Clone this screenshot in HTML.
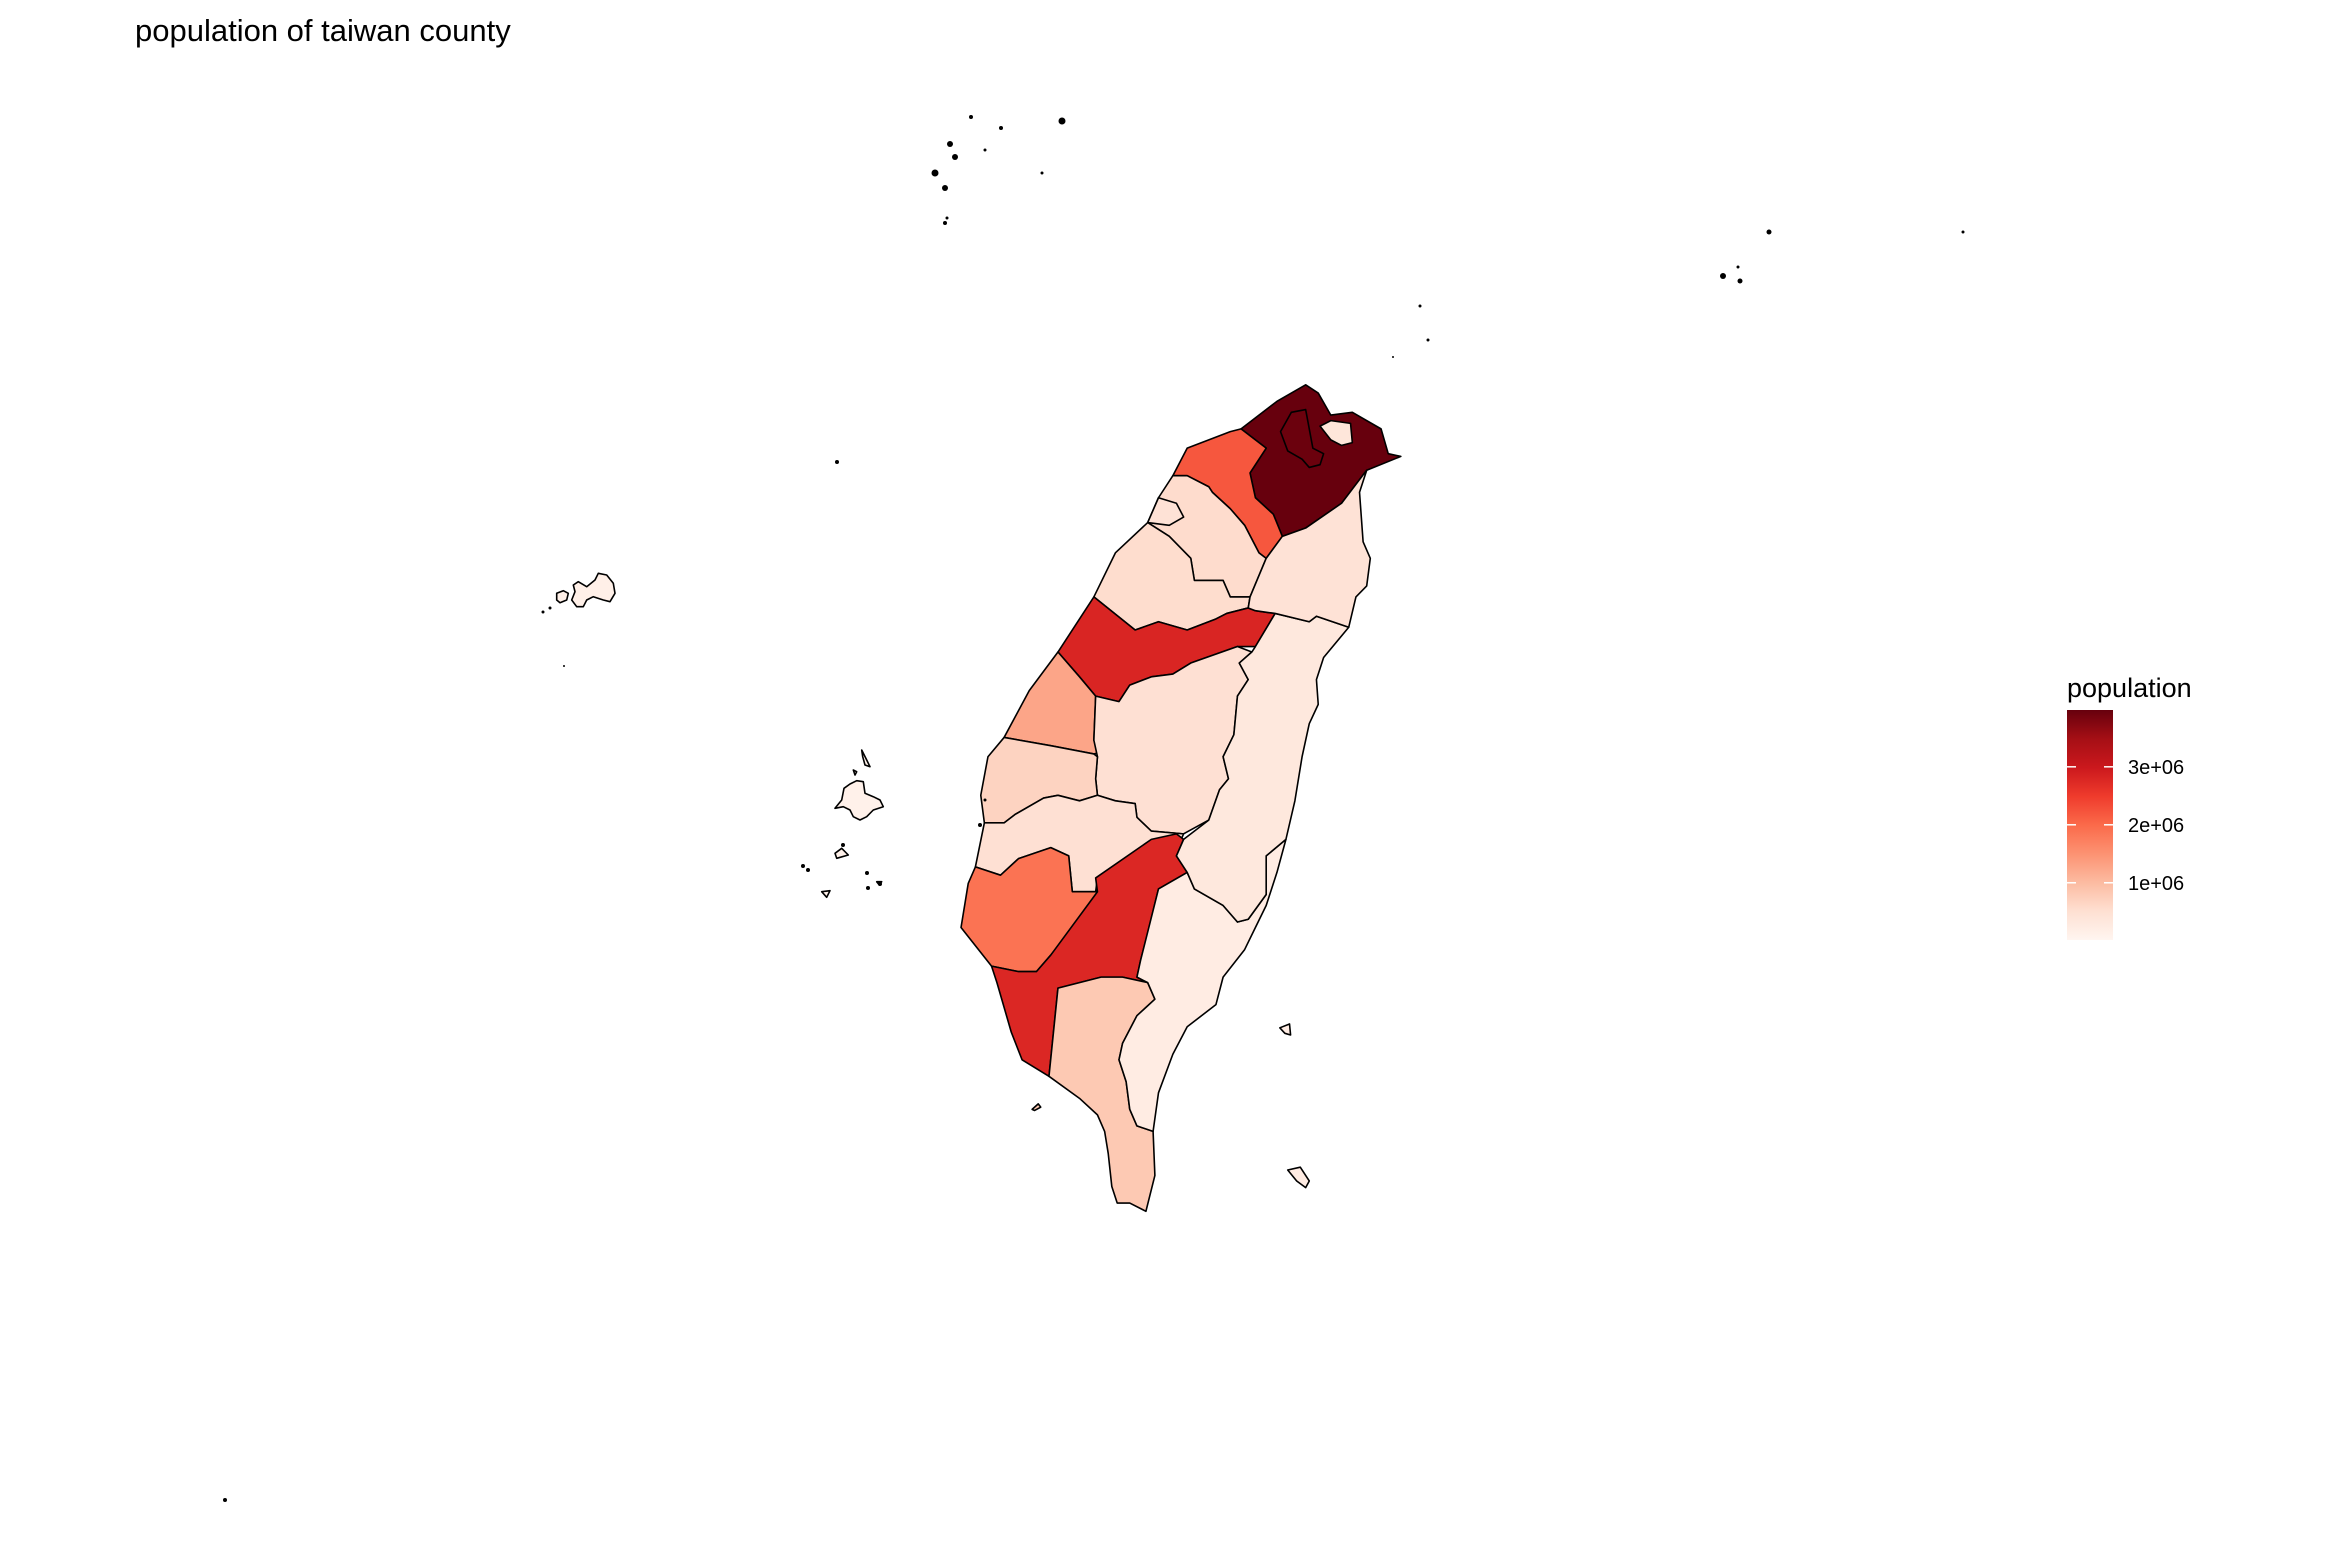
<!DOCTYPE html>
<html><head><meta charset="utf-8"><style>
html,body{margin:0;padding:0;background:#fff}
svg{display:block}
text{font-family:"Liberation Sans",Arial,sans-serif}
</style></head><body>
<svg id="chart" width="2338" height="1562" viewBox="0 0 2338 1562">
<rect width="2338" height="1562" fill="#fff"/>
<text x="135" y="41" font-size="31" fill="#000">population of taiwan county</text>
<g id="main" transform="translate(900,360) scale(0.359,0.551)" stroke="#000" stroke-width="1.6" stroke-linejoin="round"></g>
<g id="islands" stroke="#000" stroke-width="1.6" stroke-linejoin="round"></g>
<g id="legend"></g>
</svg>
<script>
const counties = ["New Taipei","Taipei","Keelung","Taoyuan","Hsinchu","Hsinchu City","Miaoli","Taichung","Changhua","Nantou","Yunlin","Chiayi","Tainan","Kaohsiung","Pingtung","Taitung","Hualien","Yilan","Kinmen","Penghu","Lienchiang"];
const populations = [3980000,3950000,370000,2200000,560000,450000,550000,2800000,1270000,500000,680000,500000,1880000,2770000,820000,220000,330000,450000,140000,105000,13000];
const legendTicks = [1000000,2000000,3000000];
const legendTickLabels = ["1e+06","2e+06","3e+06"];

const shapes = {
"New Taipei":"950,125 1050,75 1130,45 1165,60 1200,100 1260,95 1340,125 1360,170 1395,175 1300,200 1230,260 1130,305 1065,320 1040,280 990,250 975,205 1020,160",
"Taipei":"1060,130 1090,95 1130,90 1150,160 1180,170 1170,190 1140,195 1120,180 1080,165",
"Keelung":"1170,120 1200,110 1255,115 1260,150 1230,155 1200,145",
"Taoyuan":"800,160 920,130 950,125 1020,160 975,205 990,250 1040,280 1065,320 1020,360 1000,350 960,300 920,270 870,240 860,230 800,210 760,210",
"Hsinchu":"760,210 800,210 860,230 870,240 920,270 960,300 1000,350 1020,360 975,430 920,430 900,400 820,400 810,360 750,320 690,295 720,250",
"Hsinchu City":"720,250 770,260 790,285 750,300 690,295",
"Miaoli":"690,295 750,320 810,360 820,400 900,400 920,430 975,430 970,450 910,460 880,470 800,490 720,475 655,490 540,430 600,350",
"Taichung":"540,430 655,490 720,475 800,490 880,470 910,460 970,450 990,455 1045,460 990,520 940,520 810,550 760,570 700,575 640,590 610,620 545,610 500,575 440,530",
"Changhua":"440,530 500,575 545,610 540,690 575,710 540,715 420,700 290,685 360,600",
"Nantou":"545,610 610,620 640,590 700,575 760,570 810,550 940,520 980,530 945,550 970,580 940,610 930,680 900,720 915,760 890,780 860,835 790,860 700,855 660,830 655,805 600,800 550,790 545,760 550,720 540,690",
"Yunlin":"290,685 420,700 540,715 550,720 545,760 550,790 500,800 440,790 400,795 320,825 290,840 235,840 225,790 245,720",
"Chiayi":"235,840 290,840 320,825 400,795 440,790 500,800 550,790 600,800 655,805 660,830 700,855 790,860 770,890 550,940 545,965 480,965 470,900 420,885 330,905 280,935 210,920",
"Tainan":"210,920 280,935 330,905 420,885 470,900 480,965 550,965 520,1000 420,1080 380,1110 330,1110 255,1100 170,1030 190,950",
"Kaohsiung":"255,1100 330,1110 380,1110 420,1080 550,965 545,940 700,870 770,860 790,870 770,900 800,930 720,960 690,1040 670,1090 660,1120 690,1130 620,1120 560,1120 440,1140 415,1300 340,1270 310,1220 270,1130",
"Pingtung":"440,1140 560,1120 620,1120 690,1130 710,1160 660,1190 620,1240 610,1270 630,1310 640,1360 660,1390 705,1400 710,1480 685,1545 640,1530 605,1530 590,1500 580,1440 570,1400 550,1370 500,1340 415,1300",
"Taitung":"690,1130 660,1120 670,1090 720,960 800,930 820,960 900,990 940,1020 970,1015 1020,970 1020,900 1075,870 1050,930 1020,990 990,1030 960,1070 900,1120 880,1170 800,1210 760,1260 720,1330 705,1400 660,1390 640,1360 630,1310 610,1270 620,1240 660,1190 710,1160",
"Hualien":"1045,460 1140,475 1160,465 1250,485 1180,540 1160,580 1165,625 1140,660 1120,720 1100,800 1075,870 1020,900 1020,970 970,1015 940,1020 900,990 820,960 800,930 770,900 790,870 860,835 890,780 915,760 900,720 930,680 940,610 970,580 945,550 980,530 990,520",
"Yilan":"1065,320 1130,305 1230,260 1300,200 1280,240 1290,330 1310,360 1300,410 1270,430 1250,485 1160,465 1140,475 1045,460 990,455 970,450 975,430 1020,360"
};

const palette = ["#fff5f0","#fee0d2","#fcbba1","#fc9272","#fb6a4a","#ef3b2c","#cb181d","#a50f15","#67000d"];
const vmin = Math.min(...populations), vmax = Math.max(...populations);
function hex2rgb(h){return [1,3,5].map(i=>parseInt(h.substr(i,2),16));}
function colorScale(v){
  let t = (v - vmin) / (vmax - vmin); t = Math.max(0, Math.min(1, t));
  const p = t * (palette.length - 1), i = Math.min(Math.floor(p), palette.length - 2), f = p - i;
  const a = hex2rgb(palette[i]), b = hex2rgb(palette[i+1]);
  return "rgb(" + a.map((c,k)=>Math.round(c + (b[k]-c)*f)).join(",") + ")";
}
const NS = "http://www.w3.org/2000/svg";
const main = document.getElementById("main");
counties.forEach((c, i) => {
  if (!shapes[c]) return;
  const p = document.createElementNS(NS, "polygon");
  p.setAttribute("points", shapes[c]);
  p.setAttribute("fill", colorScale(populations[i]));
  p.setAttribute("vector-effect", "non-scaling-stroke");
  
  
  main.appendChild(p);
});
[["1058,1212 1085,1205 1088,1225 1072,1222","Taitung"],["1080,1470 1115,1465 1140,1490 1130,1502 1105,1490","Taitung"],["368,1360 385,1350 392,1356 375,1362","Pingtung"]].forEach(s => {
  const p = document.createElementNS(NS, "polygon");
  p.setAttribute("points", s[0]);
  p.setAttribute("fill", colorScale(populations[counties.indexOf(s[1])]));
  p.setAttribute("vector-effect", "non-scaling-stroke");
  
  
  main.appendChild(p);
});

const isl = document.getElementById("islands");
function poly(pts, tx, ty, s, fill, name){
  const p = document.createElementNS(NS, "polygon");
  p.setAttribute("points", pts.split(" ").map(q=>{const [x,y]=q.split(",").map(Number);return (tx+x*s).toFixed(1)+","+(ty+y*s).toFixed(1);}).join(" "));
  p.setAttribute("fill", fill);
  
  
  isl.appendChild(p);
}
const kinFill = colorScale(populations[counties.indexOf("Kinmen")]);
const penFill = colorScale(populations[counties.indexOf("Penghu")]);
poly("160,75 175,65 200,80 225,60 235,40 260,45 280,70 285,100 270,125 250,120 220,110 200,120 190,140 170,140 155,120 165,95",520,560,1/3,kinFill,"kinmen-main");
poly("110,100 130,92 145,100 140,120 120,128 110,120",520,560,1/3,kinFill,"kinmen-little");
poly("945,745 965,720 972,685 990,672 1010,662 1030,665 1035,700 1060,710 1080,720 1090,740 1060,750 1040,770 1020,780 1000,770 990,750 970,740",520,560,1/3,penFill,"penghu-main");
poly("1025,570 1040,600 1050,620 1035,615 1028,590",520,560,1/3,penFill,"penghu-north");
poly("1000,630 1010,635 1005,645",520,560,1/3,penFill,"penghu-islet");
poly("945,880 965,865 985,885 950,895",520,560,1/3,penFill,"penghu-south-1");
poly("905,995 930,992 920,1012",520,560,1/3,penFill,"penghu-south-2");
poly("1070,965 1085,965 1078,975",520,560,1/3,penFill,"penghu-south-3");
const dots = [[971,117,2],[1001,128,2],[1062,121,3.5],[950,144,3],[955,157,3],[935,173,3.5],[985,150,1.5],[1042,173,1.5],[945,188,3],[947,218,1.5],[945,223,2],[1769,232,2.5],[1963,232,1.5],[1723,276,3],[1740,281,2.5],[1738,267,1.5],[1420,306,1.5],[1428,340,1.5],[1393,357,1],[837,462,2],[564,666,1],[225,1500,2],[543,612,1.5],[550,608,1.5],[843,845,2],[803,866,2],[808,870,2],[880,884,2],[868,888,2],[867,873,2],[980,825,2],[985,800,1.5]];
dots.forEach(d=>{
  const c = document.createElementNS(NS,"circle");
  c.setAttribute("cx",d[0]);c.setAttribute("cy",d[1]);c.setAttribute("r",d[2]);
  c.setAttribute("fill","#000");c.setAttribute("stroke","none");
  
  
  isl.appendChild(c);
});

const lg = document.getElementById("legend");
const barX = 2067, barW = 46, barTop = 710, barBot = 940;
const defs = document.createElementNS(NS,"defs");
const grad = document.createElementNS(NS,"linearGradient");
grad.setAttribute("id","lg");grad.setAttribute("x1","0");grad.setAttribute("y1","1");grad.setAttribute("x2","0");grad.setAttribute("y2","0");
palette.forEach((c,i)=>{const s=document.createElementNS(NS,"stop");s.setAttribute("offset",(i/(palette.length-1)));s.setAttribute("stop-color",c);grad.appendChild(s);});
defs.appendChild(grad);lg.appendChild(defs);
const lt = document.createElementNS(NS,"text");
lt.setAttribute("x",barX);lt.setAttribute("y",697);lt.setAttribute("font-size","27");
lt.textContent="population";


lg.appendChild(lt);
const bar = document.createElementNS(NS,"rect");
bar.setAttribute("x",barX);bar.setAttribute("y",barTop);bar.setAttribute("width",barW);bar.setAttribute("height",barBot-barTop);bar.setAttribute("fill","url(#lg)");


lg.appendChild(bar);
function ly(v){return barBot - (v - vmin)/(vmax - vmin)*(barBot-barTop);}
legendTicks.forEach((v,i)=>{
  const y = ly(v);
  [[barX,barX+9],[barX+barW-9,barX+barW]].forEach(seg=>{
    const l=document.createElementNS(NS,"line");
    l.setAttribute("x1",seg[0]);l.setAttribute("x2",seg[1]);l.setAttribute("y1",y);l.setAttribute("y2",y);
    l.setAttribute("stroke","#fff");l.setAttribute("stroke-width","1.5");
    
    
    lg.appendChild(l);
  });
  const t=document.createElementNS(NS,"text");
  t.setAttribute("x",2128);t.setAttribute("y",y+7);t.setAttribute("font-size","20");
  t.textContent=legendTickLabels[i];
  
  
  lg.appendChild(t);
});
</script>
</body></html>
